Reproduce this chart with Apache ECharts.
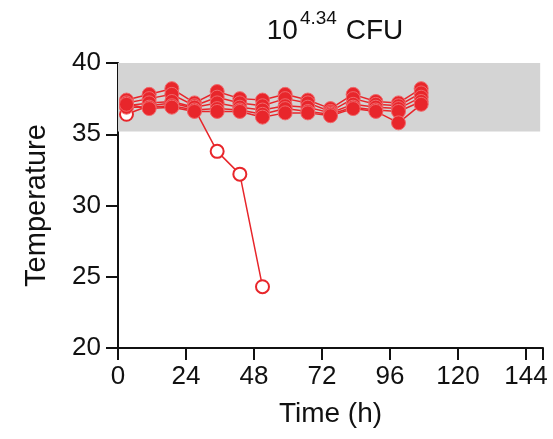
<!DOCTYPE html>
<html><head><meta charset="utf-8">
<script src="https://cdn.jsdelivr.net/npm/echarts@6/dist/echarts.min.js"></script>
<style>html,body{margin:0;padding:0;background:#fff}#c{width:553px;height:439px}</style>
</head><body><div id="c"></div>
<script>
const times = [3, 11, 19, 27, 35, 43, 51, 59, 67, 75, 83, 91, 99, 107];
const filled1 = [37.4, 37.8, 38.2, 37.2, 38.0, 37.5, 37.4, 37.8, 37.4, 36.8, 37.8, 37.3, 37.2, 38.2];
const filled2 = [37.2, 37.5, 37.8, 37.0, 37.6, 37.2, 37.0, 37.5, 37.2, 36.6, 37.5, 37.1, 37.0, 37.9];
const filled3 = [37.0, 37.2, 37.3, 36.9, 37.2, 36.9, 36.7, 37.0, 36.9, 36.5, 37.1, 36.9, 36.8, 37.6];
const filled4 = [36.9, 36.9, 37.0, 36.7, 36.8, 36.7, 36.4, 36.8, 36.6, 36.4, 36.9, 36.7, 36.6, 37.3];
const filled5 = [37.1, 36.8, 36.9, 36.6, 36.6, 36.6, 36.2, 36.5, 36.5, 36.3, 36.8, 36.6, 35.8, 37.1];
const openTimes = [3, 11, 19, 27, 35, 43, 51];
const openVals = [36.4, 37.0, 37.2, 36.8, 33.8, 32.2, 24.3];
const band = [35.2, 40];
const xTicks = [0, 24, 48, 72, 96, 120, 144];
const yTicks = [20, 25, 30, 35, 40];

const red = '#e8262b';
const font = 'Liberation Sans, Arial, sans-serif';
const filledSets = [filled1, filled2, filled3, filled4, filled5];
const series = filledSets.map((vals, i) => ({
  type: 'line',
  data: times.map((t, j) => [t, vals[j]]),
  symbol: 'circle', symbolSize: 14,
  itemStyle: { color: red, borderColor: '#f0686b', borderWidth: 1 },
  lineStyle: { color: red, width: 1.5 },
  z: 3,
  markArea: i === 0 ? {
    silent: true,
    itemStyle: { color: '#d4d4d4' },
    data: [[{ xAxis: 0, yAxis: band[0] }, { xAxis: 149, yAxis: band[1] }]]
  } : undefined
}));
series.push({
  type: 'line',
  data: openTimes.map((t, j) => [t, openVals[j]]),
  symbol: 'circle', symbolSize: 13,
  itemStyle: { color: '#fff', borderColor: red, borderWidth: 2 },
  lineStyle: { color: red, width: 1.5 },
  z: 2
});

const chart = echarts.init(document.getElementById('c'));
chart.setOption({
  animation: false,
  title: {
    text: '{b|10}{s|4.34}{b| CFU}',
    left: 330, top: 4, textAlign: 'center',
    textStyle: { rich: {
      b: { fontFamily: font, fontSize: 28, fontWeight: 'normal', color: '#111', lineHeight: 36, verticalAlign: 'bottom' },
      s: { fontFamily: font, fontSize: 19, fontWeight: 'normal', color: '#111', lineHeight: 36, verticalAlign: 'top', padding: [0, 1, 14, 2] }
    } }
  },
  grid: { left: 118, top: 63, width: 425, height: 285, containLabel: false },
  xAxis: {
    type: 'value', min: 0, max: 150, interval: 24,
    name: 'Time (h)', nameLocation: 'middle', nameGap: 52,
    nameTextStyle: { fontFamily: font, fontSize: 28, color: '#111' },
    axisLine: { lineStyle: { color: '#111', width: 2 } },
    axisTick: { length: 12, lineStyle: { color: '#111', width: 2 } },
    axisLabel: { fontFamily: font, fontSize: 26, color: '#111', margin: 16,
      formatter: v => xTicks.includes(v) ? String(v) : '' },
    splitLine: { show: false }
  },
  yAxis: {
    type: 'value', min: 20, max: 40, interval: 5,
    name: 'Temperature', nameLocation: 'middle', nameGap: 67, nameRotate: 90,
    nameTextStyle: { fontFamily: font, fontSize: 29, color: '#111' },
    axisLine: { show: true, lineStyle: { color: '#111', width: 2 } },
    axisTick: { show: true, length: 12, lineStyle: { color: '#111', width: 2 } },
    axisLabel: { fontFamily: font, fontSize: 26, color: '#111', margin: 17,
      formatter: v => yTicks.includes(v) ? String(v) : '' },
    splitLine: { show: false }
  },
  series: series
});
</script></body></html>
